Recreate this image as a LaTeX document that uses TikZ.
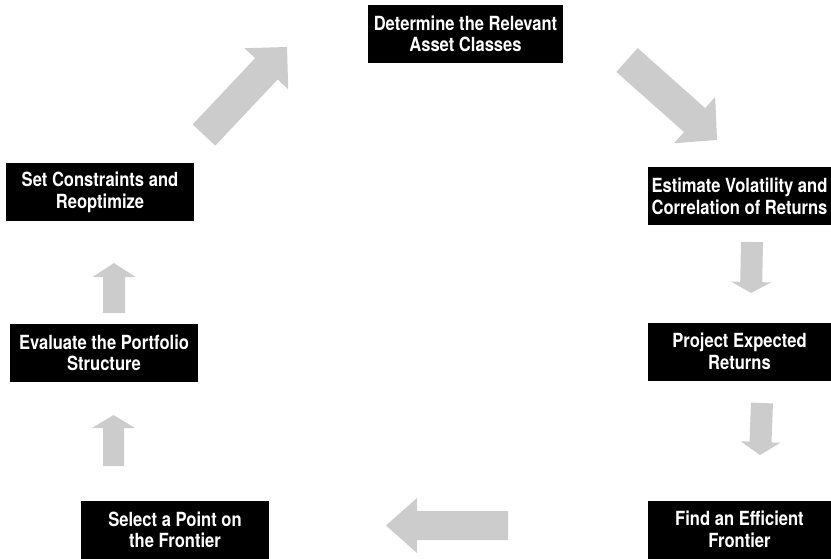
\documentclass[tikz,border=0pt]{standalone}
\usepackage{fontspec}
\usepackage{tikz}
\usetikzlibrary{calc}
\newfontfamily\stepfont{TeX Gyre Heros}[FakeStretch=0.85]
\definecolor{arrowgray}{HTML}{CCCCCC}

% #1 tail, #2 tip, #3 half shaft width, #4 half head width, #5 head length
\newcommand{\blockarrow}[5]{%
  \coordinate (h) at ($(#2)!#5!(#1)$);
  \fill[arrowgray] ($(#1)!#3!90:(#2)$) -- ($(h)!#3!90:(#2)$) -- ($(h)!#4!90:(#2)$) -- (#2)
     -- ($(h)!#4!-90:(#2)$) -- ($(h)!#3!-90:(#2)$) -- ($(#1)!#3!-90:(#2)$) -- cycle;
}

\begin{document}
\begin{tikzpicture}[
            x = 1pt, y = -1pt, % pixel grid of the picture
            stepbox/.style = {fill=black, text=white, align=center, inner sep=0pt,
                minimum width=188pt, minimum height=58pt,
                font=\stepfont\bfseries\fontsize{19.5pt}{21.5pt}\selectfont}, % black boxes
            rightbox/.style = {stepbox, minimum width=183pt}
        ]
\useasboundingbox (0,0) rectangle (831,559);

\node[stepbox, minimum width=195pt] (assets) at (465.5,34) {Determine the Relevant\\Asset Classes};
\node[rightbox] (volat) at (739.5,196.5) {Estimate Volatility and\\Correlation of Returns};
\node[rightbox] (returns) at (739.5,351.5) {Project Expected\\Returns};
\node[rightbox] (frontier) at (739.5,529.5) {Find an Efficient\\Frontier};
\node[stepbox] (select) at (175,530) {Select a Point on\\the Frontier};
\node[stepbox] (evaluate) at (104,353) {Evaluate the Portfolio\\Structure};
\node[stepbox] (constr) at (100,192.5) {Set Constraints and\\Reoptimize};

% ends of the grey arrows
\coordinate (a1) at (204,135);   \coordinate (b1) at (287,47);
\coordinate (a2) at (627,60);    \coordinate (b2) at (717,140);
\coordinate (a3) at (752,242);   \coordinate (b3) at (751,293);
\coordinate (a4) at (762,403);   \coordinate (b4) at (760,455);
\coordinate (a5) at (508,525.5); \coordinate (b5) at (386,525.5);
\coordinate (a6) at (113.5,466); \coordinate (b6) at (113.5,415);
\coordinate (a7) at (114,313);   \coordinate (b7) at (114,263);

\blockarrow{a1}{b1}{15.5pt}{30pt}{30pt}
\blockarrow{a2}{b2}{16pt}{31pt}{30pt}
\blockarrow{a3}{b3}{11pt}{20pt}{11pt}
\blockarrow{a4}{b4}{11pt}{20pt}{13pt}
\blockarrow{a5}{b5}{14.5pt}{27.5pt}{31pt}
\blockarrow{a6}{b6}{10.5pt}{21.5pt}{13pt}
\blockarrow{a7}{b7}{11pt}{21.5pt}{14pt}
\end{tikzpicture}
\end{document}
